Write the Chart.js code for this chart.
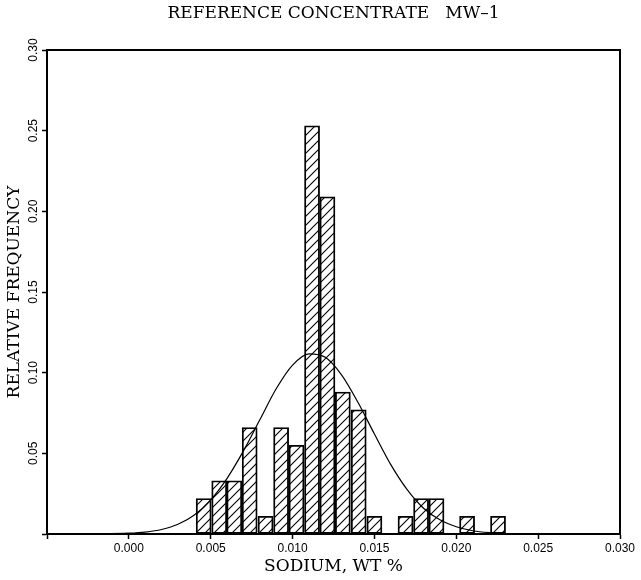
<!DOCTYPE html>
<html>
<head>
<meta charset="utf-8">
<script src="https://cdn.jsdelivr.net/npm/chart.js"></script>
<style>
  body { margin: 0; background: #fff; }
  canvas { display: block; }
</style>
</head>
<body>
<canvas id="histChart" width="641" height="580"></canvas>
<script>
// histogram bins (centres, wt %) and relative frequencies
const binCentres = [0.00457, 0.00552, 0.00644, 0.00738, 0.00835, 0.00930, 0.01024,
                    0.01119, 0.01213, 0.01307, 0.01404, 0.01500, 0.01595, 0.01690,
                    0.01785, 0.01879, 0.01973, 0.02066, 0.02161, 0.02255];
const relFreq = [0.022, 0.033, 0.033, 0.066, 0.011, 0.066, 0.055,
                 0.253, 0.209, 0.088, 0.077, 0.011, 0.000, 0.011,
                 0.022, 0.022, 0.000, 0.011, 0.000, 0.011];

// fitted normal curve
const curveX = [-0.004, -0.002, 0.000, 0.001, 0.002, 0.003, 0.004, 0.005, 0.006, 0.007,
                0.008, 0.009, 0.010, 0.011, 0.012, 0.013, 0.014, 0.015, 0.016, 0.017,
                0.018, 0.019, 0.020, 0.021, 0.022, 0.023, 0.025, 0.028];
const curveY = [0.0000, 0.0001, 0.0005, 0.0012, 0.0028, 0.0060, 0.0118, 0.0212, 0.0345, 0.0515,
                0.0708, 0.0900, 0.1047, 0.1117, 0.1095, 0.0985, 0.0815, 0.0620, 0.0430, 0.0275,
                0.0160, 0.0088, 0.0045, 0.0020, 0.0008, 0.0003, 0.0000, 0.0000];

const xTicksMin = -0.005, xTicksMax = 0.030, xStep = 0.005;
const yTicksMin = 0, yTicksMax = 0.30, yStep = 0.05;

const chartTitle = 'REFERENCE CONCENTRATE   MW\u20131';
const serif = 'DejaVu Serif';
const tickFont = { family: 'Liberation Sans', size: 12 };

// diagonal hatch fill for the bars
function hatch() {
  const s = 9;
  const c = document.createElement('canvas');
  c.width = s; c.height = s;
  const g = c.getContext('2d');
  g.strokeStyle = '#000';
  g.lineWidth = 1.1;
  g.beginPath();
  g.moveTo(0, s); g.lineTo(s, 0);
  g.moveTo(-1, 1); g.lineTo(1, -1);
  g.moveTo(s - 1, s + 1); g.lineTo(s + 1, s - 1);
  g.stroke();
  return g.createPattern(c, 'repeat');
}

// white background, box round the plot and the heading over the plot area
const frame = {
  id: 'frame',
  beforeDraw(chart) {
    const ctx = chart.ctx;
    ctx.save();
    ctx.fillStyle = '#fff';
    ctx.fillRect(0, 0, chart.width, chart.height);
    ctx.restore();
  },
  afterDraw(chart) {
    const a = chart.chartArea, ctx = chart.ctx;
    ctx.save();
    ctx.strokeStyle = '#000';
    ctx.lineWidth = 2;
    ctx.strokeRect(a.left, a.top, a.right - a.left, a.bottom - a.top);
    ctx.fillStyle = '#000';
    ctx.font = '17px "' + serif + '"';
    ctx.textAlign = 'center';
    ctx.textBaseline = 'middle';
    ctx.fillText(chartTitle, (a.left + a.right) / 2, 14);
    ctx.restore();
  }
};

const fmt = (v, d) => (Math.abs(v) < 1e-9 ? 0 : v).toFixed(d);

new Chart(document.getElementById('histChart').getContext('2d'), {
  type: 'bar',
  data: {
    datasets: [
      {
        type: 'line',
        data: curveX.map((x, i) => ({ x: x, y: curveY[i] })),
        borderColor: '#000',
        borderWidth: 1.2,
        pointRadius: 0,
        cubicInterpolationMode: 'monotone',
        fill: false,
        order: 0
      },
      {
        type: 'bar',
        data: binCentres.map((x, i) => ({ x: x, y: relFreq[i] })),
        backgroundColor: hatch(),
        borderColor: '#000',
        borderWidth: 1.2,
        borderSkipped: false,
        barPercentage: 1,
        categoryPercentage: 1,
        order: 1
      }
    ]
  },
  options: {
    responsive: false,
    animation: false,
    layout: { padding: { left: 0, right: 21, top: 50, bottom: 0 } },
    plugins: {
      legend: { display: false },
      tooltip: { enabled: false },
      title: { display: false }
    },
    scales: {
      x: {
        type: 'linear',
        min: xTicksMin,
        max: xTicksMax,
        offset: false,
        afterFit: s => { s.height = 46; },
        grid: { display: true, offset: false, drawOnChartArea: false, tickLength: 5, tickColor: '#000', tickWidth: 1.5 },
        border: { display: true, color: '#000', width: 2 },
        ticks: {
          stepSize: xStep,
          color: '#000',
          font: tickFont,
          padding: 2,
          maxRotation: 0,
          callback: v => (v < -0.001 ? '' : fmt(v, 3))
        },
        title: {
          display: true,
          text: 'SODIUM, WT %',
          color: '#000',
          font: { family: serif, size: 17 },
          padding: { top: 0, bottom: 3 }
        }
      },
      y: {
        min: yTicksMin,
        max: yTicksMax,
        afterFit: s => { s.width = 47; },
        grid: { display: true, drawOnChartArea: false, tickLength: 5, tickColor: '#000', tickWidth: 1.5 },
        border: { display: true, color: '#000', width: 2 },
        ticks: {
          stepSize: yStep,
          color: '#000',
          font: tickFont,
          minRotation: 90,
          maxRotation: 90,
          crossAlign: 'center',
          padding: -3,
          callback: v => (v < 0.001 ? '' : fmt(v, 2))
        },
        title: {
          display: true,
          text: 'RELATIVE FREQUENCY',
          color: '#000',
          font: { family: serif, size: 17 },
          padding: { top: 4, bottom: 0 }
        }
      }
    }
  },
  plugins: [frame]
});
</script>
</body>
</html>
